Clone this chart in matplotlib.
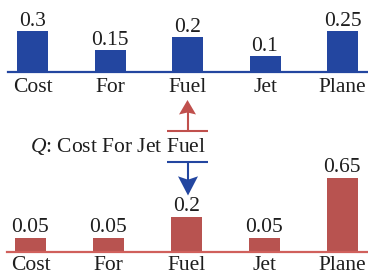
import matplotlib
matplotlib.use("Agg")
import matplotlib.pyplot as plt
from matplotlib.patches import Polygon

# ---- data ----
words = ["Cost", "For", "Fuel", "Jet", "Plane"]
top_probs = [0.3, 0.15, 0.2, 0.1, 0.25]
bottom_probs = [0.05, 0.05, 0.2, 0.05, 0.65]
# drawn bar heights (schematic in pixel units)
top_heights = [41, 22, 35, 16, 41]
bottom_heights = [14, 14, 35, 14, 74]
query_words = "Cost For Jet Fuel"

BLUE = "#2346A0"
RED = "#B85350"
RED_LINE = "#C0504D"
TXT = "#1E1E1E"

plt.rcParams["font.family"] = ["Liberation Serif", "DejaVu Serif"]
plt.rcParams["mathtext.fontset"] = "custom"
plt.rcParams["mathtext.it"] = "Liberation Serif:italic"
plt.rcParams["mathtext.rm"] = "Liberation Serif"

W, H = 368, 275
fig = plt.figure(figsize=(W / 100, H / 100), dpi=100)
FS = 15.5


def panel(left_px, base_px, top_px, centers, color, heights, probs, line_color, label_off):
    ax = fig.add_axes([left_px / W, (H - base_px) / H, (W - left_px) / W, (base_px - top_px) / H])
    step = (centers[1] - centers[0])
    ax.set_xlim(-(centers[0] - left_px) / step, (W - centers[0]) / step)
    ax.set_ylim(0, base_px - top_px)
    xs = list(range(len(words)))
    ax.bar(xs, heights, width=31 / step, color=color, zorder=2)
    for x, h, p, w in zip(xs, heights, probs, words):
        ax.text(x, h + 5.5, f"{p:g}", ha="center", va="baseline", fontsize=FS, color=TXT)
        ax.text(x, -label_off, w, ha="center", va="baseline", fontsize=FS, color=TXT, clip_on=False)
    for s in ["top", "left", "right"]:
        ax.spines[s].set_visible(False)
    ax.spines["bottom"].set_color(line_color)
    ax.spines["bottom"].set_linewidth(1.6)
    ax.set_xticks([])
    ax.set_yticks([])
    ax.patch.set_alpha(0)
    return ax


panel(8, 72.3, 0, [32.5, 110.0], BLUE, top_heights, top_probs, BLUE, 20.0)
panel(7, 251.7, 100, [30.5, 108.4], RED, bottom_heights, bottom_probs, "#D0605C", 18.6)

# overlay in pixel coordinates for the query and arrows
ov = fig.add_axes([0, 0, 1, 1])
ov.set_xlim(0, W)
ov.set_ylim(H, 0)
ov.axis("off")
ov.patch.set_alpha(0)

ov.text(30.5, 151.7, r"$Q$" + ": " + query_words, ha="left", va="baseline", fontsize=FS, color=TXT)

cx = 187.5
# red arrow up
ov.plot([166.7, 207.7], [130.7, 130.7], color=RED_LINE, lw=1.5, solid_capstyle="butt")
ov.plot([cx, cx], [130.7, 112], color=RED_LINE, lw=1.5, solid_capstyle="butt")
ov.add_patch(Polygon([[cx, 100], [cx - 8.5, 114.5], [cx, 112.5], [cx + 8.5, 114.5]],
                     closed=True, color=RED_LINE, lw=0))
# blue arrow down
ov.plot([cx + 0.5, cx + 0.5], [162.3, 180], color=BLUE, lw=1.5, solid_capstyle="butt")
ov.plot([166.7, 207.7], [162.3, 162.3], color=BLUE, lw=1.5, solid_capstyle="butt")
ov.add_patch(Polygon([[cx + 0.5, 195.5], [cx - 9.5, 176.3], [cx + 0.5, 179.7], [cx + 10.5, 176.3]],
                     closed=True, color=BLUE, lw=0))

fig.savefig("out.png", dpi=100)
